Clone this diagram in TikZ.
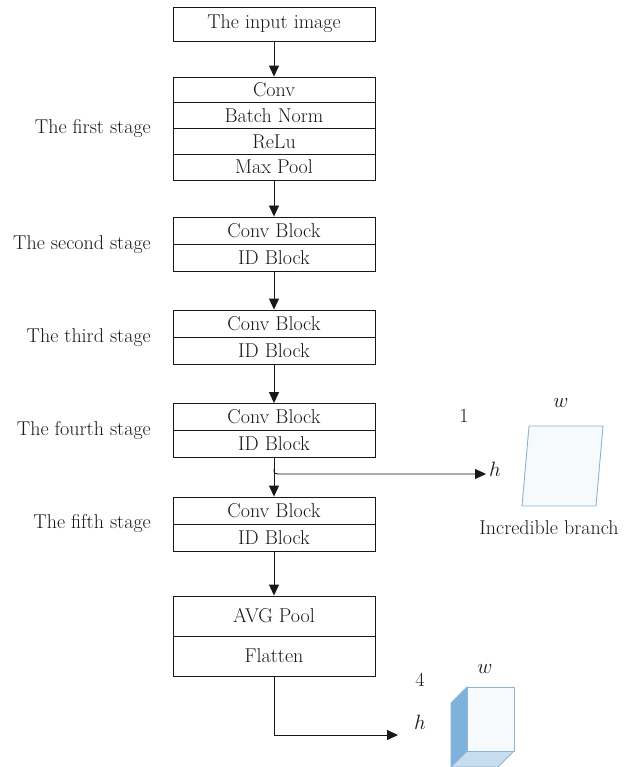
\documentclass[tikz,border=0pt]{standalone}
\usetikzlibrary{arrows.meta}
\definecolor{edgeblue}{HTML}{8AB4D4}
\definecolor{faceblue}{HTML}{F7FAFD}
\definecolor{sideblue}{HTML}{7EB2DC}
\definecolor{botblue}{HTML}{C6DDF0}
\definecolor{ink}{HTML}{1A1718}
\begin{document}
\begin{tikzpicture}[x=1pt,y=-1pt,
  rowbox/.style={draw=ink, line width=0.9pt, minimum width=202pt, inner sep=0pt, font=\fontsize{20}{24}\selectfont, text=ink},
  lbl/.style={font=\fontsize{20}{24}\selectfont, text=ink, inner sep=0pt},
  arr/.style={draw=ink, line width=0.9pt, -{Triangle[length=11pt,width=10pt]}}]
\useasboundingbox (0,0) rectangle (625,767);
% input
\node[rowbox, minimum height=34pt] (in) at (274,24) {The input image};
% stage 1
\node[rowbox, minimum height=25.75pt] (c1) at (274,89.9) {Conv};
\node[rowbox, minimum height=25.75pt] (bn) at (274,115.6) {Batch Norm};
\node[rowbox, minimum height=25.75pt] (re) at (274,141.4) {ReLu};
\node[rowbox, minimum height=25.75pt] (mp) at (274,167.1) {Max Pool};
% stage 2-5
\node[rowbox, minimum height=27pt] (s2a) at (274,230.5) {Conv Block};
\node[rowbox, minimum height=27pt] (s2b) at (274,257.5) {ID Block};
\node[rowbox, minimum height=27pt] (s3a) at (274,323.5) {Conv Block};
\node[rowbox, minimum height=27pt] (s3b) at (274,350.5) {ID Block};
\node[rowbox, minimum height=27pt] (s4a) at (274,417) {Conv Block};
\node[rowbox, minimum height=27pt] (s4b) at (274,444) {ID Block};
\node[rowbox, minimum height=27pt] (s5a) at (274,510.5) {Conv Block};
\node[rowbox, minimum height=27pt] (s5b) at (274,537.5) {ID Block};
% avg / flatten
\node[rowbox, minimum height=40pt] (avg) at (274,616) {AVG Pool};
\node[rowbox, minimum height=40pt] (fl) at (274,656) {Flatten};
% stage labels
\node[lbl, anchor=east] (l1) at (151,129) {The first stage};
\node[lbl, anchor=east] (l2) at (151,245) {The second stage};
\node[lbl, anchor=east] (l3) at (151,338) {The third stage};
\node[lbl, anchor=east] (l4) at (151,431) {The fourth stage};
\node[lbl, anchor=east] (l5) at (151,524) {The fifth stage};
% arrows
\draw[arr] (in.south) -- (c1.north);
\draw[arr] (mp.south) -- (s2a.north);
\draw[arr] (s2b.south) -- (s3a.north);
\draw[arr] (s3b.south) -- (s4a.north);
\draw[arr] (s4b.south) -- (s5a.north);
\draw[arr] (s5b.south) -- (avg.north);
% branch
\coordinate (bj) at (274,469);
\coordinate (bend) at (486,474);
\draw[arr] (bj) .. controls (274,474) .. (282,474) -- (bend);
\node[lbl] (h1) at (495,469) {$h$};
\node[lbl] (one) at (464,416) {1};
\node[lbl] (w1) at (561,403) {$w$};
\draw[draw=edgeblue, fill=faceblue, line width=0.9pt] (529,426) -- (603,426) -- (596,506) -- (522,506) -- cycle;
\node[lbl] (ib) at (549,528) {Incredible branch};
% output
\coordinate (oend) at (398,735);
\draw[arr] (fl.south) |- (oend);
\node[lbl] (four) at (420,680) {4};
\node[lbl] (w2) at (485,669) {$w$};
\node[lbl] (h2) at (420,722) {$h$};
\begin{scope}
\clip (0,0) rectangle (625,767);
\draw[draw=edgeblue, fill=sideblue, line width=0.9pt] (451,703) -- (467,687) -- (467,751) -- (451,767) -- cycle;
\draw[draw=edgeblue, fill=botblue, line width=0.9pt] (467,751) -- (514,751) -- (498,767) -- (451,767) -- cycle;
\draw[draw=edgeblue, fill=faceblue, line width=0.9pt] (467,687) rectangle (514,751);
\end{scope}
\end{tikzpicture}
\end{document}
